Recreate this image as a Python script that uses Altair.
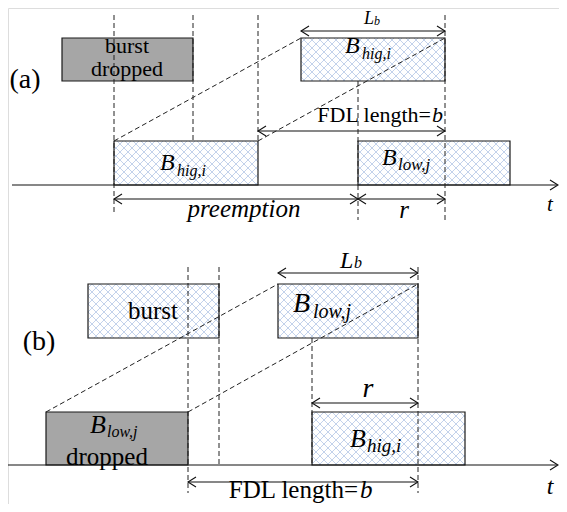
import altair as alt
import pandas as pd

W, H = 551, 496
X0, Y0 = 8, 8
FONT = "'Liberation Serif', 'Times New Roman', Times, serif"

# ---------------- boxes (bursts) ----------------
box_x0 = [62, 114, 301, 358, 88, 278, 46, 312]
box_x1 = [193, 258, 445, 510, 219, 418, 188, 465]
box_y0 = [38, 141, 38, 141, 284, 284, 412, 412]
box_y1 = [81, 185, 81, 185, 338, 338, 465, 465]
box_kind = ["dropped", "hatch", "hatch", "hatch", "hatch", "hatch", "dropped", "hatch"]

# ---------------- solid lines (time axes + arrow shafts) ----------------
solid_x0 = [12, 7, 301, 258, 114, 358, 278, 312, 188]
solid_y0 = [185, 465, 31, 131, 199, 199, 273, 403, 482]
solid_x1 = [557, 557, 445, 445, 358, 445, 418, 418, 418]
solid_y1 = [185, 465, 31, 131, 199, 199, 273, 403, 482]
solid_kind = ["axis", "axis", "arrow", "arrow", "arrow", "arrow", "arrow", "arrow", "arrow"]

# ---------------- dashed lines ----------------
dash_x0 = [114, 193, 258, 445, 358, 114, 258, 188, 219, 418, 312, 46, 188]
dash_y0 = [15, 15, 15, 15, 81, 141, 141, 267, 267, 267, 338, 412, 412]
dash_x1 = [114, 193, 258, 445, 358, 301, 445, 188, 219, 418, 312, 278, 418]
dash_y1 = [213, 141, 141, 220, 220, 38, 38, 493, 465, 493, 465, 284, 284]

# ---------------- texts ----------------
txt_label = ["(a)", "burst", "dropped", "FDL length=", "(b)", "burst", "dropped", "FDL length=",
             "B", "hig,i", "B", "hig,i", "B", "low,j", "L", "b", "b", "preemption", "r", "t",
             "B", "low,j", "L", "b", "r", "B", "hig,i", "B", "low,j", "b", "t"]
txt_x = [25, 127, 127, 431, 39, 153, 107, 358,
         160, 177, 345, 362, 382, 398, 364, 374, 432, 244, 404, 550,
         293, 313, 340, 354, 368, 350, 367, 90, 107, 360, 550]
txt_y = [88, 53, 76, 122, 350, 319, 465, 498,
         170, 176, 53, 59, 165, 170, 24, 25, 122, 217, 218, 211,
         312, 318, 268, 268, 397, 447, 452, 433, 437, 498, 494]
txt_size = [28, 22, 22, 22, 28, 25, 25, 25,
            24, 16, 24, 16, 24, 17, 18, 12, 22, 25, 25, 21,
            28, 20, 24, 16, 28, 26, 19, 26, 16, 25, 24]
txt_italic = [False] * 8 + [True] * 23
txt_align = ["center", "center", "center", "right", "center", "center", "center", "right",
             "left", "left", "left", "left", "left", "left", "left", "left", "left", "center", "center", "center",
             "left", "left", "left", "left", "center", "left", "left", "left", "left", "left", "center"]

HATCH_STEP = 8

xs = alt.Scale(domain=[X0, X0 + W], nice=False, zero=False)
ys = alt.Scale(domain=[Y0, Y0 + H], nice=False, zero=False, reverse=True)


def X(f="x"):
    return alt.X(f"{f}:Q", scale=xs, axis=None)


def Y(f="y"):
    return alt.Y(f"{f}:Q", scale=ys, axis=None)


boxes = pd.DataFrame({"x": box_x0, "x2": box_x1, "y": box_y0, "y2": box_y1, "kind": box_kind})

# hatch segments (decorative cross-hatch inside hatched boxes)
hx0, hy0, hx1, hy1 = [], [], [], []
for a, b, c, d, k in zip(box_x0, box_x1, box_y0, box_y1, box_kind):
    if k != "hatch":
        continue
    cc = ((a - d) // HATCH_STEP) * HATCH_STEP
    while cc <= b - c:
        lo, hi = max(c, a - cc), min(d, b - cc)
        if hi > lo:
            hx0.append(lo + cc); hy0.append(lo); hx1.append(hi + cc); hy1.append(hi)
        cc += HATCH_STEP
    cc = ((a + c) // HATCH_STEP) * HATCH_STEP
    while cc <= b + d:
        lo, hi = max(c, cc - b), min(d, cc - a)
        if hi > lo:
            hx0.append(cc - lo); hy0.append(lo); hx1.append(cc - hi); hy1.append(hi)
        cc += HATCH_STEP
hatch = pd.DataFrame({"x": hx0, "y": hy0, "x2": hx1, "y2": hy1})

solid = pd.DataFrame({"x": solid_x0, "y": solid_y0, "x2": solid_x1, "y2": solid_y1})
dashed = pd.DataFrame({"x": dash_x0, "y": dash_y0, "x2": dash_x1, "y2": dash_y1})

hx, hyy, ha = [], [], []
for a, b, c, k in zip(solid_x0, solid_x1, solid_y0, solid_kind):
    if k == "arrow":
        hx += [a, b]; hyy += [c, c]; ha += [180, 0]
    else:
        hx.append(b + 1); hyy.append(c); ha.append(0)
heads = pd.DataFrame({"x": hx, "y": hyy, "angle": ha})

texts = pd.DataFrame({"x": txt_x, "y": txt_y, "text": txt_label, "size": txt_size,
                      "italic": txt_italic, "align": txt_align})

fill_layer = alt.Chart(boxes).mark_rect(strokeOpacity=0).encode(
    x=X(), x2="x2:Q", y=Y(), y2="y2:Q",
    fill=alt.Fill("kind:N", scale=alt.Scale(domain=["dropped", "hatch"], range=["#a6a6a6", "#ffffff"]), legend=None),
)
hatch_layer = alt.Chart(hatch).mark_rule(color="#bccde9", strokeWidth=0.9).encode(
    x=X(), y=Y(), x2="x2:Q", y2="y2:Q")
border_layer = alt.Chart(boxes).mark_rect(fillOpacity=0, stroke="#1a1a1a", strokeWidth=1.2).encode(
    x=X(), x2="x2:Q", y=Y(), y2="y2:Q")
solid_layer = alt.Chart(solid).mark_rule(color="#111111", strokeWidth=1.2).encode(
    x=X(), y=Y(), x2="x2:Q", y2="y2:Q")
dash_layer = alt.Chart(dashed).mark_rule(color="#222222", strokeWidth=1, strokeDash=[5, 3]).encode(
    x=X(), y=Y(), x2="x2:Q", y2="y2:Q")
head_layer = alt.Chart(heads).mark_point(
    shape="M -1.6 -1 L 0 0 L -1.6 1", filled=False, size=100, stroke="#111111", strokeWidth=1.1, opacity=1
).encode(x=X(), y=Y(), angle=alt.Angle("angle:Q", scale=None))

text_layers = []
for it in [False, True]:
    for al in ["left", "center", "right"]:
        sub = texts[(texts["italic"] == it) & (texts["align"] == al)]
        if len(sub) == 0:
            continue
        text_layers.append(
            alt.Chart(sub).mark_text(
                font=FONT, fontStyle="italic" if it else "normal", align=al,
                baseline="alphabetic", color="#000000"
            ).encode(x=X(), y=Y(), text="text:N", size=alt.Size("size:Q", scale=None))
        )

chart = alt.layer(fill_layer, hatch_layer, border_layer, solid_layer, dash_layer, head_layer,
                  *text_layers).properties(
    width=W, height=H, padding=0, autosize=alt.AutoSizeParams(type="none")
).configure_view(strokeWidth=0, strokeOpacity=0).configure(background="white")

chart.save("out.html", embed_options={"renderer": "svg", "actions": False})
